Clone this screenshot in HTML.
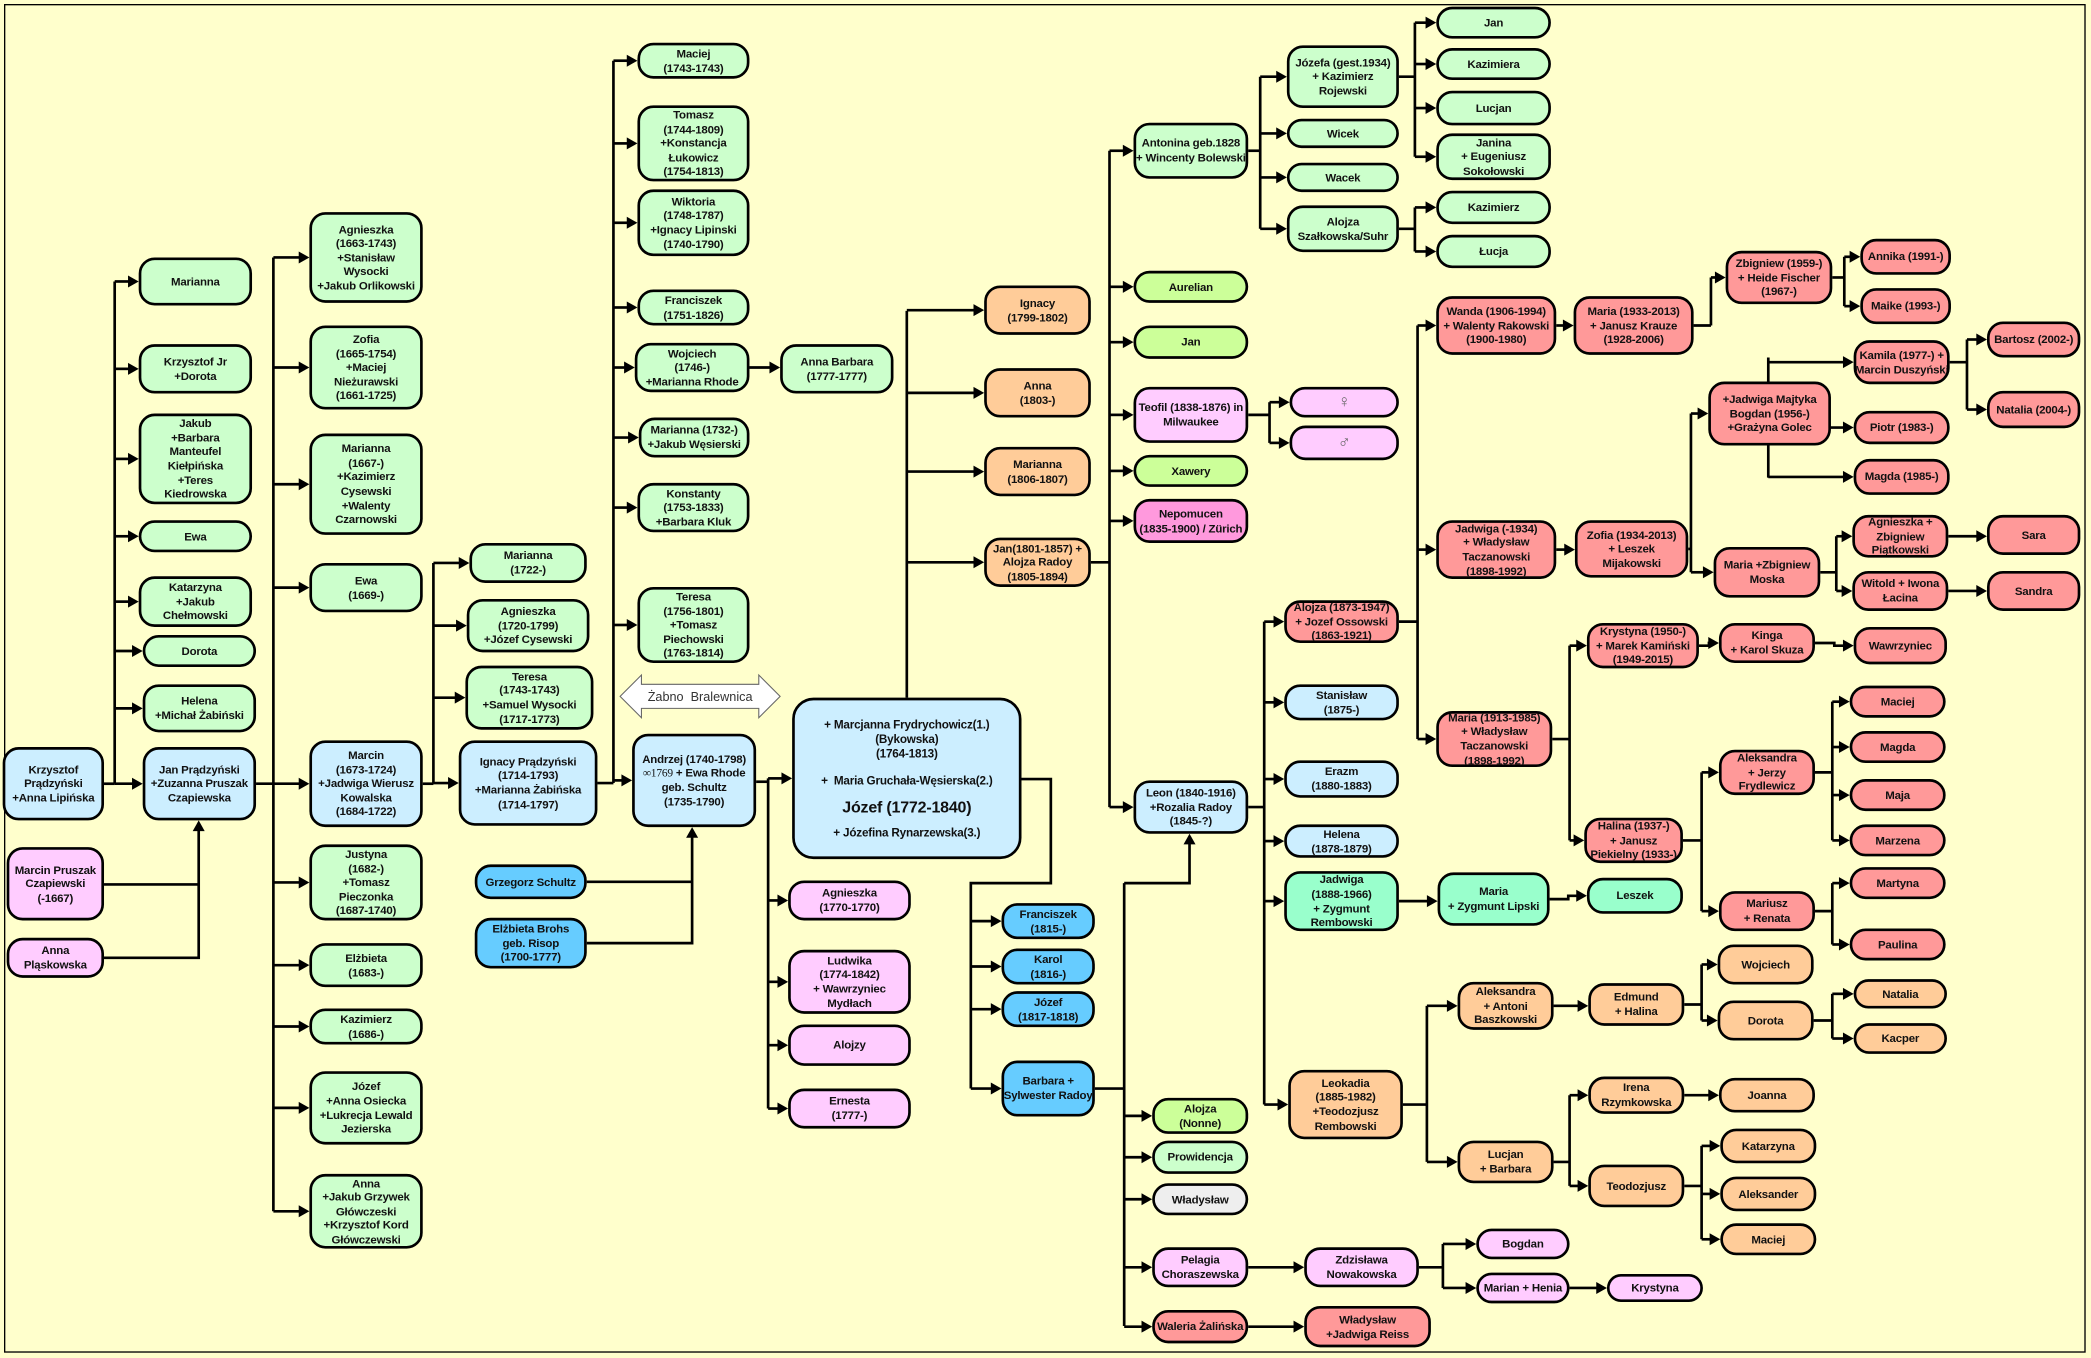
<!DOCTYPE html>
<html><head><meta charset="utf-8">
<style>
html,body{margin:0;padding:0;background:#ffffcc;}
body{width:2091px;height:1358px;overflow:hidden;position:relative;}
#w{position:absolute;left:0;top:0;width:1568px;height:1018px;transform-origin:0 0;transform:scale(1.33355,1.3340);}
#frame{position:absolute;left:3px;top:3px;width:1561px;height:1011px;border:1px solid #000;box-sizing:border-box;}
svg{position:absolute;left:0;top:0;}
.n{position:absolute;box-sizing:border-box;border:2px solid #000;border-radius:12px;display:flex;align-items:center;justify-content:center;text-align:center;font-family:"Liberation Sans",Arial,sans-serif;font-weight:bold;font-size:8.6px;line-height:10.6px;color:#111;letter-spacing:-0.15px;z-index:2;overflow:hidden;white-space:nowrap;}
.g{background:#ccffcc}.b{background:#cceeff}.p{background:#ffccff}.o{background:#ffcc99}.r{background:#ff9999}
.bd{background:#66ccff}.lg{background:#ccff99}.aq{background:#99ffcc}.gr{background:#eeeeee}.pk{background:#ff99dd}
</style></head><body>
<div id="w">
<div id="frame"></div>
<svg id="s" width="1568" height="1018"></svg>

<div class="n b" id="K" style="left:2px;top:560px;width:76px;height:55px">Krzysztof<br>Prądzyński<br>+Anna Lipińska</div>
<div class="n p" id="MP" style="left:5px;top:635px;width:73px;height:55px">Marcin Pruszak<br>Czapiewski<br>(-1667)</div>
<div class="n p" id="AP" style="left:5px;top:703px;width:73px;height:30px">Anna<br>Pląskowska</div>

<div class="n g" id="c1" style="left:104px;top:193px;width:85px;height:36px">Marianna</div>
<div class="n g" id="c2" style="left:104px;top:258px;width:85px;height:37px">Krzysztof Jr<br>+Dorota</div>
<div class="n g" id="c3" style="left:104px;top:310px;width:85px;height:68px">Jakub<br>+Barbara<br>Manteufel<br>Kiełpińska<br>+Teres<br>Kiedrowska</div>
<div class="n g" id="c4" style="left:104px;top:390px;width:85px;height:24px">Ewa</div>
<div class="n g" id="c5" style="left:104px;top:432px;width:85px;height:38px">Katarzyna<br>+Jakub<br>Chełmowski</div>
<div class="n g" id="c6" style="left:107px;top:476px;width:85px;height:24px">Dorota</div>
<div class="n g" id="c7" style="left:107px;top:513px;width:85px;height:36px">Helena<br>+Michał Żabiński</div>
<div class="n b" id="JAN" style="left:107px;top:560px;width:85px;height:55px">Jan Prądzyński<br>+Zuzanna Pruszak<br>Czapiewska</div>

<div class="n g" id="d1" style="left:232px;top:159px;width:85px;height:68px">Agnieszka<br>(1663-1743)<br>+Stanisław<br>Wysocki<br>+Jakub Orlikowski</div>
<div class="n g" id="d2" style="left:232px;top:244px;width:85px;height:63px">Zofia<br>(1665-1754)<br>+Maciej<br>Nieżurawski<br>(1661-1725)</div>
<div class="n g" id="d3" style="left:232px;top:325px;width:85px;height:76px">Marianna<br>(1667-)<br>+Kazimierz<br>Cysewski<br>+Walenty<br>Czarnowski</div>
<div class="n g" id="d4" style="left:232px;top:422px;width:85px;height:37px">Ewa<br>(1669-)</div>
<div class="n b" id="MAR" style="left:232px;top:555px;width:85px;height:65px">Marcin<br>(1673-1724)<br>+Jadwiga Wierusz<br>Kowalska<br>(1684-1722)</div>
<div class="n g" id="d6" style="left:232px;top:633px;width:85px;height:57px">Justyna<br>(1682-)<br>+Tomasz<br>Pieczonka<br>(1687-1740)</div>
<div class="n g" id="d7" style="left:232px;top:707px;width:85px;height:33px">Elżbieta<br>(1683-)</div>
<div class="n g" id="d8" style="left:232px;top:756px;width:85px;height:27px">Kazimierz<br>(1686-)</div>
<div class="n g" id="d9" style="left:232px;top:803px;width:85px;height:55px">Józef<br>+Anna Osiecka<br>+Lukrecja Lewald<br>Jezierska</div>
<div class="n g" id="d10" style="left:232px;top:880px;width:85px;height:56px">Anna<br>+Jakub Grzywek<br>Główczeski<br>+Krzysztof Kord<br>Główczewski</div>

<div class="n g" id="e1" style="left:352px;top:407px;width:88px;height:30px">Marianna<br>(1722-)</div>
<div class="n g" id="e2" style="left:350px;top:449px;width:92px;height:40px">Agnieszka<br>(1720-1799)<br>+Józef Cysewski</div>
<div class="n g" id="e3" style="left:349px;top:499px;width:96px;height:48px">Teresa<br>(1743-1743)<br>+Samuel Wysocki<br>(1717-1773)</div>
<div class="n b" id="IGN" style="left:344px;top:555px;width:104px;height:64px">Ignacy Prądzyński<br>(1714-1793)<br>+Marianna Żabińska<br>(1714-1797)</div>

<div class="n g" id="f1" style="left:478px;top:32px;width:84px;height:27px">Maciej<br>(1743-1743)</div>
<div class="n g" id="f2" style="left:478px;top:79px;width:84px;height:57px">Tomasz<br>(1744-1809)<br>+Konstancja<br>Łukowicz<br>(1754-1813)</div>
<div class="n g" id="f3" style="left:478px;top:142px;width:84px;height:50px">Wiktoria<br>(1748-1787)<br>+Ignacy Lipinski<br>(1740-1790)</div>
<div class="n g" id="f4" style="left:478px;top:217px;width:84px;height:27px">Franciszek<br>(1751-1826)</div>
<div class="n g" id="f5" style="left:476px;top:257px;width:86px;height:37px">Wojciech<br>(1746-)<br>+Marianna Rhode</div>
<div class="n g" id="f6" style="left:479px;top:313px;width:83px;height:30px">Marianna (1732-)<br>+Jakub Węsierski</div>
<div class="n g" id="f7" style="left:478px;top:362px;width:84px;height:37px">Konstanty<br>(1753-1833)<br>+Barbara Kluk</div>
<div class="n g" id="f8" style="left:478px;top:440px;width:84px;height:57px">Teresa<br>(1756-1801)<br>+Tomasz<br>Piechowski<br>(1763-1814)</div>
<div class="n b" id="AND" style="left:474px;top:550px;width:93px;height:70px"><div>Andrzej (1740-1798)<br><span style="font-weight:normal;font-family:'Liberation Serif',serif">∞1769</span>&nbsp;+ Ewa Rhode<br>geb. Schultz<br>(1735-1790)</div></div>
<div class="n g" id="AB" style="left:585px;top:258px;width:85px;height:37px">Anna Barbara<br>(1777-1777)</div>

<div class="n bd" id="GS" style="left:356px;top:648px;width:84px;height:26px">Grzegorz Schultz</div>
<div class="n bd" id="EB" style="left:356px;top:688px;width:84px;height:38px">Elżbieta Brohs<br>geb. Risop<br>(1700-1777)</div>

<div class="n b" id="JOZ" style="left:594px;top:523px;width:172px;height:121px;border-radius:16px;line-height:11px;font-size:8.8px"><div>+ Marcjanna Frydrychowicz(1.)<br>(Bykowska)<br>(1764-1813)<br><div style="height:9px"></div>+&nbsp; Maria Gruchała-Węsierska(2.)<div style="font-size:12px;line-height:15px;margin:7px 0 6px">Józef (1772-1840)</div>+ Józefina Rynarzewska(3.)</div></div>

<div class="n p" id="g1" style="left:591px;top:660px;width:92px;height:30px">Agnieszka<br>(1770-1770)</div>
<div class="n p" id="g2" style="left:591px;top:712px;width:92px;height:48px">Ludwika<br>(1774-1842)<br>+ Wawrzyniec<br>Mydłach</div>
<div class="n p" id="g3" style="left:591px;top:768px;width:92px;height:31px">Alojzy</div>
<div class="n p" id="g4" style="left:591px;top:816px;width:92px;height:30px">Ernesta<br>(1777-)</div>

<div class="n o" id="h1" style="left:738px;top:214px;width:80px;height:37px">Ignacy<br>(1799-1802)</div>
<div class="n o" id="h2" style="left:738px;top:276px;width:80px;height:37px">Anna<br>(1803-)</div>
<div class="n o" id="h3" style="left:738px;top:335px;width:80px;height:37px">Marianna<br>(1806-1807)</div>
<div class="n o" id="JA" style="left:738px;top:403px;width:80px;height:37px">Jan(1801-1857) +<br>Alojza Radoy<br>(1805-1894)</div>

<div class="n bd" id="i1" style="left:751px;top:677px;width:70px;height:27px">Franciszek<br>(1815-)</div>
<div class="n bd" id="i2" style="left:751px;top:711px;width:70px;height:27px">Karol<br>(1816-)</div>
<div class="n bd" id="i3" style="left:751px;top:743px;width:70px;height:27px">Józef<br>(1817-1818)</div>
<div class="n bd" id="BS" style="left:751px;top:795px;width:70px;height:42px">Barbara +<br>Sylwester Radoy</div>

<div class="n g" id="ANT" style="left:850px;top:92px;width:86px;height:42px">Antonina geb.1828<br>+ Wincenty Bolewski</div>
<div class="n lg" id="j2" style="left:850px;top:203px;width:86px;height:24px">Aurelian</div>
<div class="n lg" id="j3" style="left:850px;top:244px;width:86px;height:25px">Jan</div>
<div class="n p" id="TEO" style="left:850px;top:290px;width:86px;height:42px">Teofil (1838-1876) in<br>Milwaukee</div>
<div class="n lg" id="j5" style="left:850px;top:341px;width:86px;height:24px">Xawery</div>
<div class="n pk" id="j6" style="left:850px;top:374px;width:86px;height:33px">Nepomucen<br>(1835-1900) / Zürich</div>
<div class="n b" id="LEO" style="left:850px;top:585px;width:86px;height:40px">Leon (1840-1916)<br>+Rozalia Radoy<br>(1845-?)</div>

<div class="n lg" id="k1" style="left:864px;top:823px;width:72px;height:27px">Alojza<br>(Nonne)</div>
<div class="n g" id="k2" style="left:864px;top:855px;width:72px;height:25px">Prowidencja</div>
<div class="n gr" id="k3" style="left:864px;top:887px;width:72px;height:24px">Władysław</div>
<div class="n p" id="PEL" style="left:864px;top:935px;width:72px;height:30px">Pelagia<br>Choraszewska</div>
<div class="n r" id="WAL" style="left:864px;top:982px;width:72px;height:25px">Waleria Żalińska</div>
<div class="n p" id="ZDZ" style="left:978px;top:935px;width:86px;height:30px">Zdzisława<br>Nowakowska</div>
<div class="n r" id="WJR" style="left:978px;top:979px;width:95px;height:31px">Władysław<br>+Jadwiga Reiss</div>
<div class="n p" id="l1" style="left:1107px;top:921px;width:70px;height:23px">Bogdan</div>
<div class="n p" id="MH" style="left:1107px;top:954px;width:70px;height:23px">Marian + Henia</div>
<div class="n p" id="l3" style="left:1205px;top:955px;width:72px;height:21px">Krystyna</div>

<div class="n g" id="JOZA" style="left:965px;top:34px;width:84px;height:47px">Józefa (gest.1934)<br>+ Kazimierz<br>Rojewski</div>
<div class="n g" id="m2" style="left:965px;top:89px;width:84px;height:22px">Wicek</div>
<div class="n g" id="m3" style="left:965px;top:122px;width:84px;height:22px">Wacek</div>
<div class="n g" id="ALS" style="left:965px;top:154px;width:84px;height:35px">Alojza<br>Szałkowska/Suhr</div>
<div class="n g" id="n1" style="left:1077px;top:5px;width:86px;height:24px">Jan</div>
<div class="n g" id="n2" style="left:1077px;top:36px;width:86px;height:24px">Kazimiera</div>
<div class="n g" id="n3" style="left:1077px;top:68px;width:86px;height:26px">Lucjan</div>
<div class="n g" id="n4" style="left:1077px;top:100px;width:86px;height:35px">Janina<br>+ Eugeniusz<br>Sokołowski</div>
<div class="n g" id="n5" style="left:1077px;top:143px;width:86px;height:25px">Kazimierz</div>
<div class="n g" id="n6" style="left:1077px;top:176px;width:86px;height:25px">Łucja</div>

<div class="n p" id="o1" style="left:967px;top:290px;width:82px;height:23px;font-weight:normal;font-size:13px;color:#666">♀</div>
<div class="n p" id="o2" style="left:967px;top:319px;width:82px;height:26px;font-weight:normal;font-size:13px;color:#666">♂</div>

<div class="n r" id="ALO" style="left:963px;top:450px;width:86px;height:32px">Alojza (1873-1947)<br>+ Jozef Ossowski<br>(1863-1921)</div>
<div class="n b" id="q2" style="left:963px;top:513px;width:86px;height:27px">Stanisław<br>(1875-)</div>
<div class="n b" id="q3" style="left:963px;top:570px;width:86px;height:28px">Erazm<br>(1880-1883)</div>
<div class="n b" id="q4" style="left:963px;top:618px;width:86px;height:25px">Helena<br>(1878-1879)</div>
<div class="n aq" id="JAD" style="left:963px;top:653px;width:86px;height:45px">Jadwiga<br>(1888-1966)<br>+ Zygmunt<br>Rembowski</div>
<div class="n o" id="LEOK" style="left:966px;top:802px;width:86px;height:52px">Leokadia<br>(1885-1982)<br>+Teodozjusz<br>Rembowski</div>

<div class="n r" id="WAN" style="left:1077px;top:222px;width:90px;height:44px">Wanda (1906-1994)<br>+ Walenty Rakowski<br>(1900-1980)</div>
<div class="n r" id="JT" style="left:1077px;top:390px;width:90px;height:44px">Jadwiga (-1934)<br>+ Władysław<br>Taczanowski<br>(1898-1992)</div>
<div class="n r" id="MT" style="left:1077px;top:533px;width:87px;height:42px">Maria (1913-1985)<br>+ Władysław<br>Taczanowski<br>(1898-1992)</div>
<div class="n r" id="MJK" style="left:1180px;top:222px;width:90px;height:44px">Maria (1933-2013)<br>+ Janusz Krauze<br>(1928-2006)</div>
<div class="n r" id="ZB" style="left:1294px;top:188px;width:80px;height:40px">Zbigniew (1959-)<br>+ Heide Fischer<br>(1967-)</div>
<div class="n r" id="s1" style="left:1395px;top:179px;width:68px;height:27px">Annika (1991-)</div>
<div class="n r" id="s2" style="left:1395px;top:216px;width:68px;height:27px">Maike (1993-)</div>
<div class="n r" id="ZOF" style="left:1181px;top:390px;width:85px;height:43px">Zofia (1934-2013)<br>+ Leszek<br>Mijakowski</div>
<div class="n r" id="JM" style="left:1281px;top:286px;width:92px;height:48px">+Jadwiga Majtyka<br>Bogdan (1956-)<br>+Grażyna Golec</div>
<div class="n r" id="MM" style="left:1285px;top:410px;width:80px;height:38px">Maria +Zbigniew<br>Moska</div>
<div class="n r" id="KAM" style="left:1390px;top:255px;width:72px;height:33px">Kamila (1977-) +<br>Marcin Duszyński</div>
<div class="n r" id="t2" style="left:1390px;top:308px;width:72px;height:25px">Piotr (1983-)</div>
<div class="n r" id="t3" style="left:1390px;top:344px;width:72px;height:27px">Magda (1985-)</div>
<div class="n r" id="u1" style="left:1490px;top:241px;width:70px;height:27px">Bartosz (2002-)</div>
<div class="n r" id="u2" style="left:1490px;top:293px;width:70px;height:28px">Natalia (2004-)</div>
<div class="n r" id="AZP" style="left:1389px;top:386px;width:72px;height:32px">Agnieszka +<br>Zbigniew<br>Piątkowski</div>
<div class="n r" id="WIL" style="left:1389px;top:428px;width:72px;height:30px">Witold + Iwona<br>Łacina</div>
<div class="n r" id="v1" style="left:1490px;top:386px;width:70px;height:30px">Sara</div>
<div class="n r" id="v2" style="left:1490px;top:428px;width:70px;height:30px">Sandra</div>

<div class="n r" id="KRY" style="left:1190px;top:467px;width:84px;height:34px">Krystyna (1950-)<br>+ Marek Kamiński<br>(1949-2015)</div>
<div class="n r" id="HAL" style="left:1188px;top:613px;width:74px;height:34px">Halina (1937-)<br>+ Janusz<br>Piekielny (1933-)</div>
<div class="n r" id="KIN" style="left:1289px;top:467px;width:72px;height:30px">Kinga<br>+ Karol Skuza</div>
<div class="n r" id="w1" style="left:1390px;top:470px;width:70px;height:28px">Wawrzyniec</div>
<div class="n r" id="ALE" style="left:1289px;top:562px;width:72px;height:34px">Aleksandra<br>+ Jerzy<br>Frydlewicz</div>
<div class="n r" id="MRN" style="left:1289px;top:668px;width:72px;height:30px">Mariusz<br>+ Renata</div>
<div class="n r" id="x1" style="left:1387px;top:514px;width:72px;height:24px">Maciej</div>
<div class="n r" id="x2" style="left:1387px;top:548px;width:72px;height:24px">Magda</div>
<div class="n r" id="x3" style="left:1387px;top:584px;width:72px;height:24px">Maja</div>
<div class="n r" id="x4" style="left:1387px;top:618px;width:72px;height:24px">Marzena</div>
<div class="n r" id="y1" style="left:1387px;top:650px;width:72px;height:24px">Martyna</div>
<div class="n r" id="y2" style="left:1387px;top:696px;width:72px;height:24px">Paulina</div>

<div class="n aq" id="MZL" style="left:1078px;top:654px;width:84px;height:40px">Maria<br>+ Zygmunt Lipski</div>
<div class="n aq" id="LES" style="left:1190px;top:658px;width:72px;height:27px">Leszek</div>

<div class="n o" id="AAB" style="left:1093px;top:736px;width:72px;height:36px">Aleksandra<br>+ Antoni<br>Baszkowski</div>
<div class="n o" id="LUC" style="left:1093px;top:855px;width:72px;height:32px">Lucjan<br>+ Barbara</div>
<div class="n o" id="EDM" style="left:1191px;top:737px;width:72px;height:32px">Edmund<br>+ Halina</div>
<div class="n o" id="z1" style="left:1288px;top:708px;width:72px;height:30px">Wojciech</div>
<div class="n o" id="DOR" style="left:1288px;top:750px;width:72px;height:30px">Dorota</div>
<div class="n o" id="z3" style="left:1390px;top:734px;width:70px;height:22px">Natalia</div>
<div class="n o" id="z4" style="left:1390px;top:767px;width:70px;height:23px">Kacper</div>
<div class="n o" id="IRE" style="left:1191px;top:807px;width:72px;height:28px">Irena<br>Rzymkowska</div>
<div class="n o" id="TDZ" style="left:1191px;top:873px;width:72px;height:32px">Teodozjusz</div>
<div class="n o" id="a1" style="left:1289px;top:808px;width:72px;height:26px">Joanna</div>
<div class="n o" id="a2" style="left:1290px;top:846px;width:72px;height:26px">Katarzyna</div>
<div class="n o" id="a3" style="left:1290px;top:882px;width:72px;height:26px">Aleksander</div>
<div class="n o" id="a4" style="left:1290px;top:917px;width:72px;height:24px">Maciej</div>

<svg width="1568" height="1018" style="z-index:1">
<polygon points="465,522 481,506 481,513 569,513 569,506 585,522 569,538 569,531 481,531 481,538" fill="#fff" stroke="#666" stroke-width="0.8"/>
<text x="525" y="525.5" text-anchor="middle" font-family="Liberation Sans, Arial, sans-serif" font-size="9.5" fill="#333">Żabno&#160; Bralewnica</text>
</svg>
</div>
<script>
var S=document.getElementById('s'),out='';
function R(id){var e=document.getElementById(id);return {l:e.offsetLeft,t:e.offsetTop,r:e.offsetLeft+e.offsetWidth,b:e.offsetTop+e.offsetHeight,y:e.offsetTop+e.offsetHeight/2,x:e.offsetLeft+e.offsetWidth/2};}
function L(pts){out+='<polyline points="'+pts.map(function(p){return p.join(',')}).join(' ')+'" fill="none" stroke="#000" stroke-width="2"/>';}
function AR(x,y){out+='<polygon points="'+(x-8)+','+(y-4.5)+' '+x+','+y+' '+(x-8)+','+(y+4.5)+'" fill="#000"/>';}
function AU(x,y){out+='<polygon points="'+(x-4.5)+','+(y+8)+' '+x+','+y+' '+(x+4.5)+','+(y+8)+'" fill="#000"/>';}
function kid(bx,c){var r=R(c);L([[bx,r.y],[r.l-7,r.y]]);AR(r.l,r.y);}
function bus(p,bx,cs,py){var r=R(p);var y0=py||r.y;L([[r.r,y0],[bx,y0]]);var ys=[y0];cs.forEach(function(c){ys.push(R(c).y);});L([[bx,Math.min.apply(0,ys)],[bx,Math.max.apply(0,ys)]]);cs.forEach(function(c){kid(bx,c);});}
function link(a,b){var p=R(a),q=R(b);if(Math.abs(p.y-q.y)<2){L([[p.r,p.y],[q.l-7,p.y]]);AR(q.l,p.y);}else{var m=(p.r+q.l)/2;L([[p.r,p.y],[m,p.y],[m,q.y],[q.l-7,q.y]]);AR(q.l,q.y);}}
bus('K',86,['c1','c2','c3','c4','c5','c6','c7','JAN']);
bus('JAN',205,['d1','d2','d3','d4','MAR','d6','d7','d8','d9','d10']);
bus('MAR',325,['e1','e2','e3','IGN']);
bus('IGN',460,['f1','f2','f3','f4','f5','f6','f7','f8','AND']);
link('f5','AB');
(function(){var j=R('JAN'),a=R('MP'),b=R('AP');L([[a.r,663],[149,663]]);L([[b.r,718],[149,718],[149,j.b+7]]);AU(149,j.b);
var n=R('AND'),g=R('GS'),e=R('EB');L([[g.r,661],[519,661]]);L([[e.r,707],[519,707],[519,n.b+7]]);AU(519,n.b);})();
bus('AND',576,['JOZ','g1','g2','g3','g4'],586);
(function(){var j=R('JOZ');L([[680,j.t],[680,233]]);['h1','h2','h3','JA'].forEach(function(c){kid(680,c);});
L([[j.r,584],[788,584],[788,662],[728,662],[728,816]]);['i1','i2','i3','BS'].forEach(function(c){kid(728,c);});
var b=R('BS'),l=R('LEO');L([[b.r,b.y],[843,b.y]]);L([[843,662],[843,994]]);L([[843,662],[892,662],[892,l.b+7]]);AU(892,l.b);
['k1','k2','k3','PEL','WAL'].forEach(function(c){kid(843,c);});})();
bus('JA',832,['ANT','j2','j3','TEO','j5','j6','LEO']);
link('PEL','ZDZ');link('WAL','WJR');
bus('ZDZ',1082,['l1','MH']);link('MH','l3');
bus('ANT',945,['JOZA','m2','m3','ALS']);
bus('JOZA',1061,['n1','n2','n3','n4']);
bus('ALS',1061,['n5','n6']);
bus('TEO',952,['o1','o2']);
bus('LEO',948,['ALO','q2','q3','q4','JAD','LEOK']);
bus('ALO',1063,['WAN','JT','MT']);
link('WAN','MJK');
bus('MJK',1283,['ZB']);
bus('ZB',1383,['s1','s2']);
link('JT','ZOF');
bus('ZOF',1268,['JM','MM']);
(function(){L([[1326,268],[1326,358]]);['KAM','t2','t3'].forEach(function(c){kid(1326,c);});})();
bus('KAM',1475,['u1','u2']);
bus('MM',1377,['AZP','WIL']);
link('AZP','v1');link('WIL','v2');
bus('MT',1177,['KRY','HAL']);
link('KRY','KIN');link('KIN','w1');
bus('HAL',1276,['ALE','MRN']);
bus('ALE',1374,['x1','x2','x3','x4']);
bus('MRN',1374,['y1','y2']);
link('JAD','MZL');link('MZL','LES');
bus('LEOK',1070,['AAB','LUC']);
link('AAB','EDM');
bus('EDM',1276,['z1','DOR']);
bus('DOR',1374,['z3','z4']);
bus('LUC',1177,['IRE','TDZ']);
link('IRE','a1');
bus('TDZ',1276,['a2','a3','a4']);
S.innerHTML=out;
</script>
</body></html>
